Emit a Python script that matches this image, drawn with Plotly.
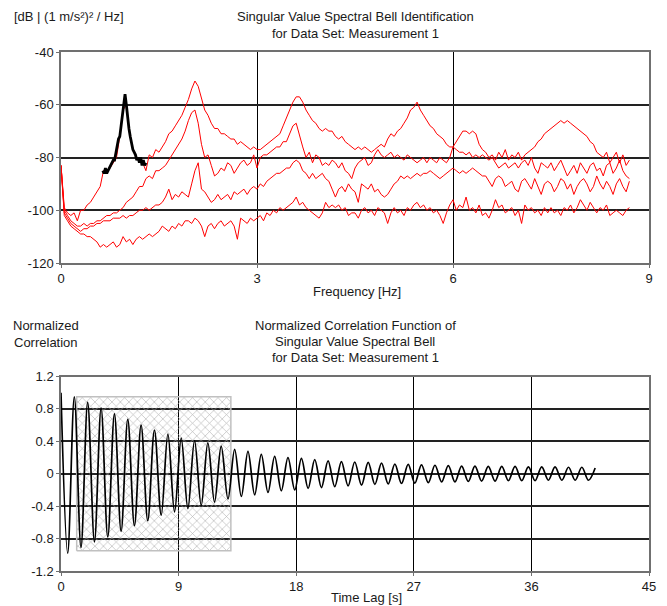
import plotly.graph_objects as go
from plotly.subplots import make_subplots

# ---------------- data: spectral singular values (dB), frequency grid 0.05 Hz ----------------
n_pts = 175
freq = [round(0.05 * i, 2) for i in range(n_pts)]

sv1 = [-83, -99, -101, -102, -101, -104, -100, -100, -98, -97,
       -95, -93, -91, -85, -86, -84, -82, -80, -72, -62,
       -60, -71, -77, -80, -81, -82, -85, -79, -80, -77,
       -78, -76, -74, -71, -70, -68, -66, -64, -61, -58,
       -54, -51, -53, -58, -62, -64, -67, -69, -69, -71,
       -71, -72, -73, -73, -75, -74, -75, -76, -77, -76,
       -77, -77, -76, -75, -74, -73, -72, -71, -68, -65,
       -62, -59, -57, -57, -59, -62, -64, -66, -67, -69,
       -70, -69, -70, -70, -72, -73, -72, -74, -75, -76,
       -77, -76, -77, -76, -77, -78, -77, -76, -75, -76,
       -73, -71, -72, -70, -69, -67, -65, -62, -61, -59,
       -62, -64, -66, -68, -69, -71, -72, -73, -75, -76,
       -76, -74, -72, -70, -70, -71, -70, -71, -75, -77,
       -78, -80, -79, -81, -78, -80, -77, -81, -79, -80,
       -78, -81, -79, -78, -77, -76, -74, -73, -71, -70,
       -69, -68, -67, -66, -67, -66, -67, -68, -69, -70,
       -71, -72, -74, -75, -78, -79, -80, -78, -82, -80,
       -78, -82, -79, -83, -81]

sv2 = [-83, -100, -102, -104, -105, -106, -106, -105, -106, -105,
       -105, -104, -104, -103, -102, -102, -101, -101, -100, -99,
       -97, -96, -95, -93, -91, -91, -88, -87, -88, -85,
       -85, -84, -83, -81, -79, -77, -75, -73, -70, -66,
       -63, -62, -67, -75, -80, -79, -83, -87, -86, -84,
       -85, -82, -83, -86, -84, -82, -81, -83, -82, -79,
       -84, -80, -79, -79, -78, -77, -76, -76, -74, -74,
       -71, -68, -67, -72, -76, -80, -78, -82, -79, -80,
       -83, -82, -83, -81, -82, -84, -82, -85, -86, -88,
       -84, -82, -81, -80, -83, -82, -79, -77, -79, -80,
       -79, -78, -80, -79, -80, -81, -79, -80, -81, -82,
       -81, -80, -82, -80, -81, -82, -80, -81, -82, -80,
       -76, -77, -78, -78, -79, -78, -80, -79, -80, -79,
       -80, -81, -80, -82, -84, -83, -82, -84, -83, -82,
       -84, -82, -81, -83, -80, -84, -86, -82, -83, -84,
       -82, -85, -83, -81, -84, -87, -85, -83, -86, -82,
       -84, -86, -83, -82, -85, -84, -87, -83, -82, -86,
       -84, -81, -85, -87, -88]

sv3 = [-83, -101, -103, -105, -106, -107, -108, -107, -107, -106,
       -106, -105, -105, -104, -104, -104, -103, -103, -103, -102,
       -103, -102, -102, -101, -100, -100, -99, -100, -99, -98,
       -98, -97, -95, -92, -96, -94, -95, -93, -94, -95,
       -90, -85, -82, -92, -93, -95, -97, -96, -94, -96,
       -95, -94, -96, -93, -94, -93, -92, -94, -92, -91,
       -92, -90, -91, -89, -88, -87, -86, -86, -85, -84,
       -84, -82, -81, -82, -85, -86, -88, -86, -88, -87,
       -86, -88, -89, -92, -95, -92, -91, -93, -90, -92,
       -93, -97, -90, -91, -92, -90, -93, -92, -94, -95,
       -94, -92, -90, -89, -87, -88, -87, -88, -87, -86,
       -87, -86, -86, -85, -86, -87, -88, -87, -86, -85,
       -84, -85, -86, -85, -86, -85, -84, -85, -86, -87,
       -87, -89, -91, -88, -87, -88, -91, -90, -89, -92,
       -93, -89, -88, -90, -92, -88, -91, -94, -90, -89,
       -90, -93, -91, -88, -89, -92, -90, -94, -91, -89,
       -88, -90, -93, -91, -87, -90, -92, -89, -91, -94,
       -90, -88, -91, -93, -89]

sv4 = [-83, -102, -104, -106, -107, -108, -109, -109, -110, -110,
       -111, -112, -114, -113, -114, -113, -112, -114, -113, -110,
       -112, -111, -113, -111, -110, -111, -110, -109, -110, -109,
       -108, -106, -107, -108, -106, -107, -105, -106, -104, -104,
       -105, -103, -104, -106, -110, -106, -105, -107, -105, -104,
       -106, -105, -104, -106, -111, -103, -104, -105, -103, -104,
       -103, -102, -104, -101, -102, -100, -101, -99, -100, -99,
       -98, -97, -95, -98, -97, -99, -100, -101, -102, -103,
       -101, -97, -99, -98, -99, -98, -100, -99, -102, -101,
       -101, -103, -100, -99, -101, -100, -102, -99, -100, -101,
       -105, -101, -99, -101, -100, -102, -99, -100, -98, -97,
       -99, -98, -100, -99, -101, -100, -102, -105, -101, -98,
       -96, -100, -98, -99, -95, -100, -99, -101, -98, -102,
       -101, -103, -100, -96, -99, -98, -101, -100, -99, -102,
       -100, -105, -98, -100, -99, -101, -100, -102, -99, -101,
       -99, -101, -100, -102, -99, -100, -98, -101, -99, -96,
       -98, -100, -97, -99, -101, -99, -100, -98, -102, -101,
       -100, -101, -102, -100, -99]

# identified spectral bell (black)
bell_freq = [0.64, 0.66, 0.68, 0.70, 0.72, 0.74, 0.76, 0.78, 0.80, 0.82, 0.84, 0.86,
             0.88, 0.90, 0.92, 0.94, 0.96, 0.98, 1.00, 1.02, 1.04, 1.06, 1.08, 1.10,
             1.12, 1.14, 1.16, 1.18, 1.20, 1.22, 1.24, 1.26, 1.28, 1.30]
bell_db = [-85, -86, -84, -86, -85, -84, -83, -82, -81, -81, -78, -75,
           -73, -72, -68, -63, -58, -56, -60, -65, -69, -72, -75, -77,
           -78, -79, -81, -80, -82, -80, -83, -81, -83, -82]

# ---------------- data: normalized correlation function (extrema) ----------------
corr_t = [0, 0.51, 1.02, 1.53, 2.04, 2.56, 3.07, 3.58, 4.09, 4.6, 5.11, 5.62, 6.13, 6.64,
          7.15, 7.67, 8.18, 8.69, 9.2, 9.71, 10.22, 10.73, 11.24, 11.75, 12.26, 12.78,
          13.29, 13.8, 14.31, 14.82, 15.33, 15.84, 16.35, 16.86, 17.37, 17.89, 18.4,
          18.91, 19.42, 19.93, 20.44, 20.95, 21.46, 21.97, 22.48, 23.0, 23.51, 24.02,
          24.53, 25.04, 25.55, 26.06, 26.57, 27.08, 27.59, 28.11, 28.62, 29.13, 29.64,
          30.15, 30.66, 31.17, 31.68, 32.19, 32.7, 33.22, 33.73, 34.24, 34.75, 35.26,
          35.77, 36.28, 36.79, 37.3, 37.81, 38.33, 38.84, 39.35, 39.86, 40.37, 40.88]
corr_v = [1.0, -0.98, 0.95, -0.91, 0.88, -0.84, 0.81, -0.78, 0.74, -0.71, 0.67, -0.64,
          0.60, -0.58, 0.54, -0.51, 0.49, -0.47, 0.44, -0.43, 0.41, -0.39, 0.38, -0.35,
          0.34, -0.31, 0.30, -0.28, 0.275, -0.26, 0.24, -0.23, 0.215, -0.21, 0.20, -0.20,
          0.19, -0.18, 0.175, -0.17, 0.16, -0.16, 0.15, -0.15, 0.145, -0.14, 0.14, -0.13,
          0.13, -0.125, 0.12, -0.12, 0.115, -0.115, 0.11, -0.11, 0.105, -0.10, 0.10, -0.10,
          0.095, -0.095, 0.095, -0.09, 0.09, -0.09, 0.09, -0.085, 0.09, -0.085, 0.085,
          -0.085, 0.085, -0.08, 0.085, -0.08, 0.08, -0.08, 0.08, -0.08, 0.07]

# analysis window (hatched)
window_t = [1.2, 13.0]
window_level = 0.95

top_xticks = [0, 3, 6, 9]
top_yticks = [-120, -100, -80, -60, -40]
top_ylabels = ["-120", "-100", "-80", "-60", "-40"]
bot_xticks = [0, 9, 18, 27, 36, 45]
bot_yticks = [-1.2, -0.8, -0.4, 0, 0.4, 0.8, 1.2]
bot_ylabels = ["-1.2", "-0.8", "-0.4", "0", "0.4", "0.8", "1.2"]

# ---------------- figure ----------------
W, H = 667, 606
ML, MR, MT, MB = 61, 18, 52, 35
PH = H - MT - MB
top_dom = [1 - 211 / PH, 1]
bot_dom = [0, 194.5 / PH]

fig = make_subplots(rows=2, cols=1)
for s in (sv1, sv2, sv3, sv4):
    fig.add_trace(go.Scatter(x=freq, y=s, mode="lines",
                             line=dict(color="#ff0000", width=1), hoverinfo="skip"),
                  row=1, col=1)
fig.add_trace(go.Scatter(x=bell_freq, y=bell_db, mode="lines",
                         line=dict(color="black", width=2.8)), row=1, col=1)

wx = [window_t[0], window_t[1], window_t[1], window_t[0], window_t[0]]
wy = [-window_level, -window_level, window_level, window_level, -window_level]
fig.add_trace(go.Scatter(x=wx, y=wy, mode="lines", fill="toself",
                         fillcolor="rgba(0,0,0,0)",
                         fillpattern=dict(shape="x", fgcolor="#b4b4b4",
                                          bgcolor="rgba(0,0,0,0)", size=6,
                                          solidity=0.2, fillmode="replace"),
                         line=dict(color="#c0c0c0", width=1.5)), row=2, col=1)
fig.add_trace(go.Scatter(x=corr_t, y=corr_v, mode="lines",
                         line=dict(color="black", width=1.7, shape="spline", smoothing=1)),
              row=2, col=1)

font = dict(family="Liberation Sans, Arial, sans-serif", size=13, color="#1a1a1a")
axis_common = dict(showline=True, mirror=True, linecolor="#707070", linewidth=1.5,
                   ticks="outside", ticklen=3, tickcolor="#707070", zeroline=False,
                   tickfont=font)

fig.update_xaxes(range=[0, 9], tickvals=top_xticks, showgrid=True, gridcolor="black",
                 gridwidth=1.2, domain=[0, 1], row=1, col=1, **axis_common)
fig.update_yaxes(range=[-120, -40], tickvals=top_yticks, ticktext=top_ylabels,
                 showgrid=True, gridcolor="#222", gridwidth=1.8, domain=top_dom,
                 row=1, col=1, **axis_common)
fig.update_xaxes(range=[0, 45], tickvals=bot_xticks, showgrid=True, gridcolor="black",
                 gridwidth=1.2, domain=[0, 1], row=2, col=1, **axis_common)
fig.update_yaxes(range=[-1.2, 1.2], tickvals=bot_yticks, ticktext=bot_ylabels,
                 showgrid=True, gridcolor="#222", gridwidth=1.8, domain=bot_dom,
                 row=2, col=1, **axis_common)

def py(p):
    return (H - MB - p) / PH

def px(p):
    return (p - ML) / (W - ML - MR)

ann = [
    ("[dB | (1 m/s²)² / Hz]", px(12), py(16), "left"),
    ("Singular Value Spectral Bell Identification", 0.5, py(16), "center"),
    ("for Data Set: Measurement 1", 0.5, py(34), "center"),
    ("Frequency [Hz]", px(357), py(291), "center"),
    ("Normalized", px(46), py(325), "center"),
    ("Correlation", px(46), py(342), "center"),
    ("Normalized Correlation Function of", 0.5, py(325), "center"),
    ("Singular Value Spectral Bell", 0.5, py(341), "center"),
    ("for Data Set: Measurement 1", 0.5, py(357), "center"),
    ("Time Lag [s]", px(366), py(597), "center"),
]
for text, x, y, xa in ann:
    fig.add_annotation(text=text, x=x, y=y, xref="paper", yref="paper",
                       xanchor=xa, yanchor="middle", showarrow=False, font=font)

fig.update_layout(width=W, height=H, margin=dict(l=ML, r=MR, t=MT, b=MB),
                  paper_bgcolor="white", plot_bgcolor="white", showlegend=False,
                  font=font)

fig.write_html("out.html")
